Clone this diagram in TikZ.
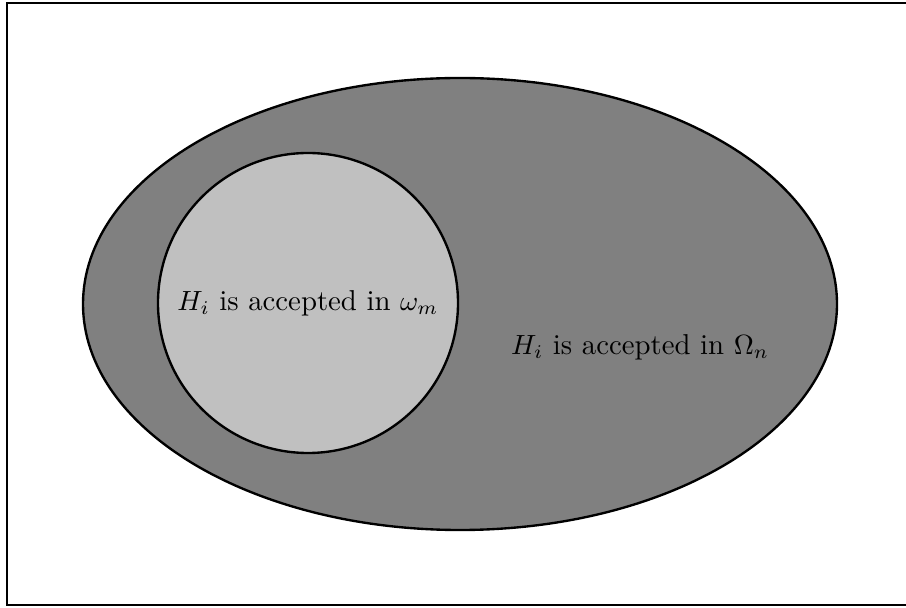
\documentclass[tikz,border=0pt]{standalone}
\begin{document}
\begin{tikzpicture}[x=0.36pt,y=-0.36pt,
  shapeline/.style={draw=black,line width=0.85pt},
  lbl/.style={inner sep=0pt,font=\fontsize{10.36}{12.4}\selectfont}]
\useasboundingbox (0,0) rectangle (906,608);
\draw[line width=0.9pt] (7,3) rectangle (915,605);
\filldraw[shapeline,fill={rgb,255:red,128;green,128;blue,128}] (460,304) ellipse [x radius=377, y radius=226];
\filldraw[shapeline,fill={rgb,255:red,192;green,192;blue,192}] (308,303) circle [radius=150];
\node[lbl] (inner) at (308,303) {$H_i$ is accepted in $\omega_m$};
\node[lbl] (outer) at (640,347) {$H_i$ is accepted in $\Omega_n$};
\end{tikzpicture}
\end{document}
